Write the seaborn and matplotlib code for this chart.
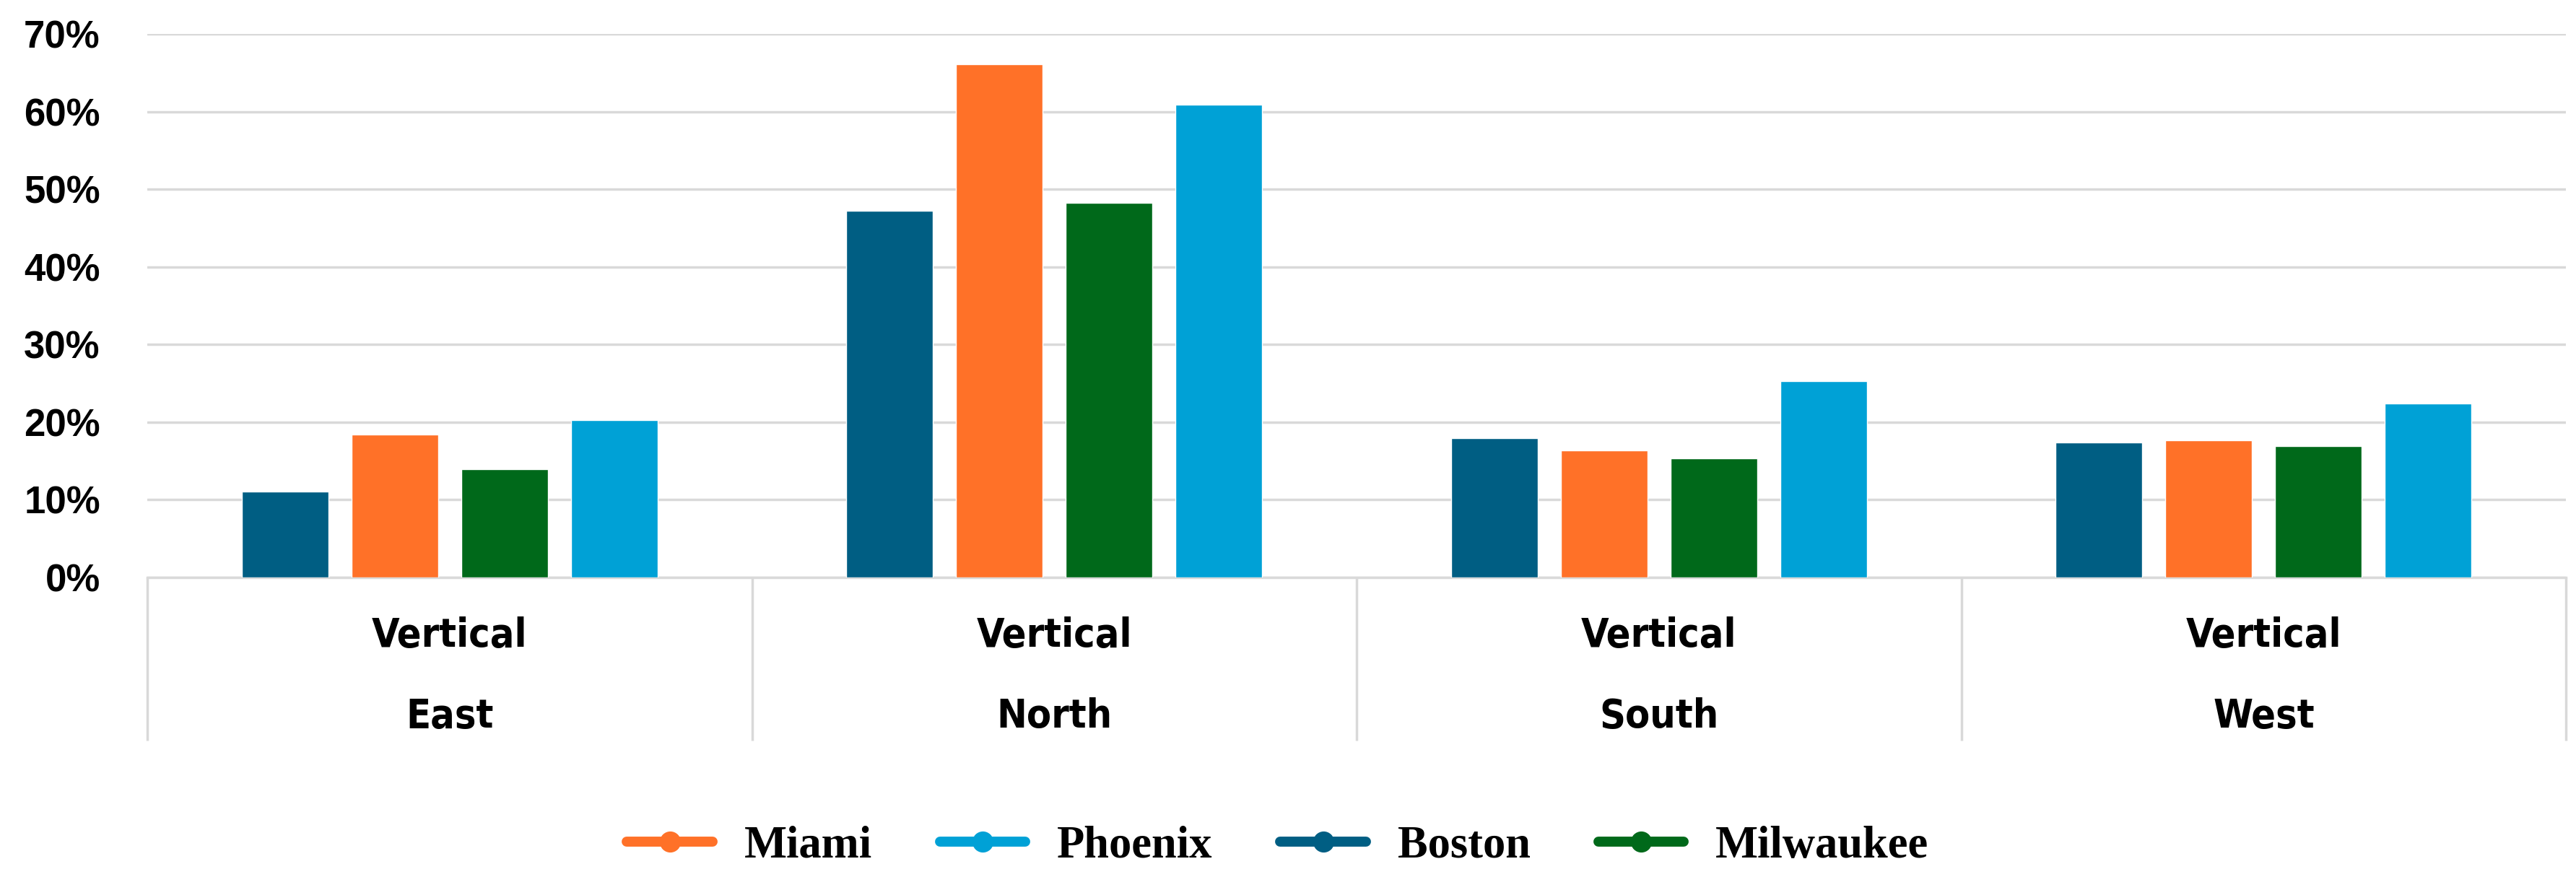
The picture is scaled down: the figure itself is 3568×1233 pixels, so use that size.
import pandas as pd
import matplotlib.pyplot as plt
import seaborn as sns
from matplotlib.lines import Line2D
from matplotlib.ticker import PercentFormatter

regions = ["East", "North", "South", "West"]
sub_label = "Vertical"
cities = ["Boston", "Miami", "Milwaukee", "Phoenix"]
boston = [0.111, 0.472, 0.179, 0.174]
miami = [0.184, 0.661, 0.164, 0.177]
milwaukee = [0.139, 0.482, 0.153, 0.169]
phoenix = [0.203, 0.609, 0.253, 0.224]
legend_order = ["Miami", "Phoenix", "Boston", "Milwaukee"]
colors = {"Boston": "#005E83", "Miami": "#FF7128", "Milwaukee": "#00691A", "Phoenix": "#00A1D6"}
yticks = [0, 0.1, 0.2, 0.3, 0.4, 0.5, 0.6, 0.7]

rows = []
for city, vals in zip(cities, [boston, miami, milwaukee, phoenix]):
    for reg, v in zip(regions, vals):
        rows.append({"region": reg, "city": city, "value": v})
df = pd.DataFrame(rows)

sns.set_style("white")
plt.rcParams["text.color"] = "black"
plt.rcParams["ytick.color"] = "black"
grid_col = "#D9D9D9"

fig = plt.figure(figsize=(35.68, 12.33), dpi=100)
ax = fig.add_axes([0.0572, 0.3512, 0.9389, 0.6107])

sns.barplot(data=df, x="region", y="value", hue="city", hue_order=cities,
            palette=colors, width=0.726, gap=0.21, legend=False, ax=ax,
            saturation=1, zorder=3)

ax.set_ylim(0, 0.7)
ax.set_xlim(-0.5, len(regions) - 0.5)
ax.set_yticks(yticks)
ax.yaxis.set_major_formatter(PercentFormatter(1.0, decimals=0))
ax.grid(axis="y", color=grid_col, linewidth=2.5, zorder=0)
ax.set_axisbelow(True)
for side in ["left", "right", "top"]:
    ax.spines[side].set_visible(False)
ax.spines["bottom"].set_color(grid_col)
ax.spines["bottom"].set_linewidth(2.5)
ax.set_xlabel("")
ax.set_ylabel("")

for lab in ax.get_yticklabels():
    lab.set_fontfamily(["Liberation Sans", "DejaVu Sans"])
    lab.set_fontweight("bold")
    lab.set_fontsize(38)
    lab.set_color("black")
ax.tick_params(axis="y", length=0, pad=47)

# category box: separators drawn as long minor ticks
ax.set_xticks([i + 0.5 for i in range(-1, len(regions))], minor=True)
ax.tick_params(axis="x", which="minor", bottom=True, length=163, width=2.5,
               color=grid_col, direction="out")
ax.tick_params(axis="x", which="major", length=0, labelbottom=False)

cat_font = dict(family=["Liberation Sans Narrow", "DejaVu Sans"], fontstretch="condensed",
                fontweight="bold", fontsize=40, color="black")
for i, reg in enumerate(regions):
    ax.text(i, -0.107, sub_label, transform=ax.get_xaxis_transform(), ha="center", va="center", **cat_font)
    ax.text(i, -0.257, reg, transform=ax.get_xaxis_transform(), ha="center", va="center", **cat_font)

handles = [Line2D([0], [0], color=colors[c], linewidth=10, marker="o", markersize=20,
                  solid_capstyle="round") for c in legend_order]
leg = fig.legend(handles, legend_order, loc="center", bbox_to_anchor=(0.496, 0.0487), ncol=4,
                 frameon=False, handlelength=1.9, handletextpad=0.7, columnspacing=1.5,
                 prop={"family": ["Liberation Serif", "DejaVu Serif"], "weight": "bold", "size": 45})
for t in leg.get_texts():
    t.set_color("black")

fig.savefig("out.png", dpi=100)
